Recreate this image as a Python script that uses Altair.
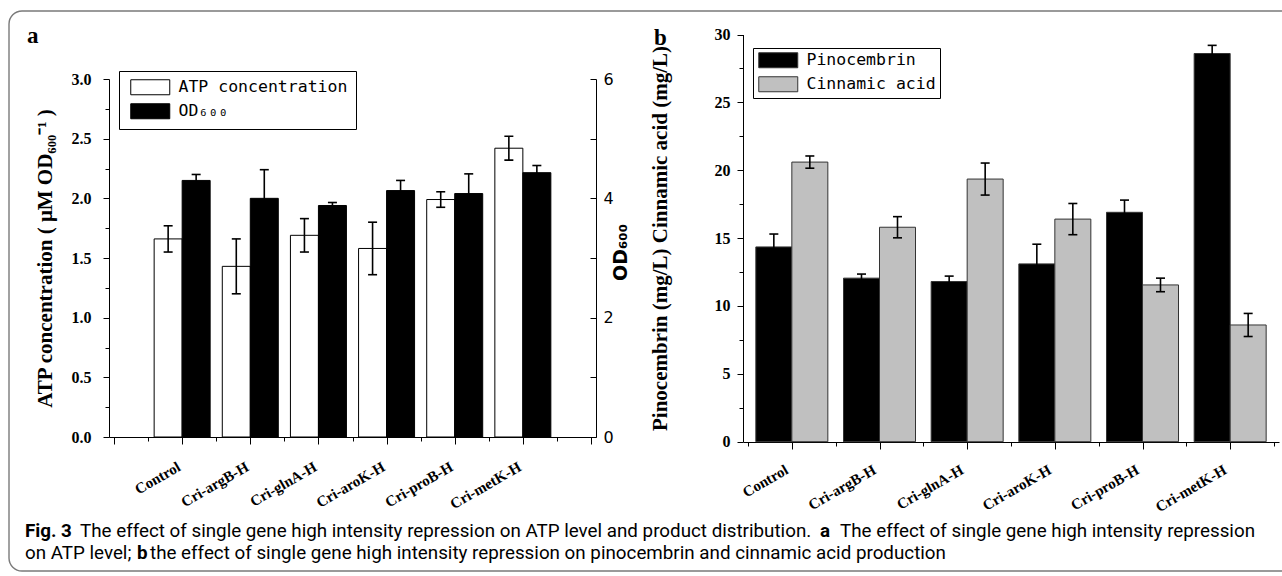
import json
import altair as alt
import pandas as pd

# ---------------- data ----------------
categories = ["Control", "Cri-argB-H", "Cri-glnA-H", "Cri-aroK-H", "Cri-proB-H", "Cri-metK-H"]

atp = [1.66, 1.43, 1.69, 1.58, 1.99, 2.42]
atp_err = [0.11, 0.23, 0.14, 0.22, 0.065, 0.10]
od600 = [4.30, 4.00, 3.88, 4.13, 4.08, 4.43]
od600_err = [0.10, 0.48, 0.05, 0.17, 0.33, 0.12]

pinocembrin = [14.35, 12.05, 11.8, 13.1, 16.9, 28.6]
pinocembrin_err = [0.95, 0.30, 0.40, 1.45, 0.90, 0.60]
cinnamic = [20.6, 15.8, 19.35, 16.4, 11.55, 8.6]
cinnamic_err = [0.45, 0.78, 1.18, 1.15, 0.50, 0.85]

series_a = ["ATP concentration", "OD₆₀₀"]
series_b = ["Pinocembrin", "Cinnamic acid"]

atp_ticks = [i * 0.25 for i in range(13)]
od_ticks = list(range(0, 7))
b_ticks = [i * 2.5 for i in range(13)]
xa_ticks = [i * 0.5 for i in range(15)]
xb_ticks = [0.5 + i * 0.5 for i in range(13)]


def frame(values, errs, name):
    return pd.DataFrame({
        "pos": list(range(1, len(categories) + 1)),
        "category": categories,
        "value": values,
        "lo": [v - e for v, e in zip(values, errs)],
        "hi": [v + e for v, e in zip(values, errs)],
        "series": [name] * len(categories),
    })


df_atp = frame(atp, atp_err, series_a[0])
df_od = frame(od600, od600_err, series_a[1])
df_pino = frame(pinocembrin, pinocembrin_err, series_b[0])
df_cinn = frame(cinnamic, cinnamic_err, series_b[1])

SERIF = "Liberation Serif"
MONO = "DejaVu Sans Mono"
SANS = "DejaVu Sans"
CAP = "Roboto"

cat_expr = json.dumps(categories)
x_label_expr = ("(datum.value % 1 == 0 && datum.value >= 1 && datum.value <= " + str(len(categories))
                + ") ? " + cat_expr + "[datum.value - 1] : ''")


def x_axis(values, offset, pad, shift):
    return alt.Axis(values=values, labelExpr=x_label_expr, orient="bottom", offset=offset,
                    title=None, grid=False, domainColor="black", tickColor="black",
                    tickSize={"condition": {"test": "datum.value % 1 == 0", "value": 7}, "value": 4},
                    labelAngle=330, labelAlign="right", labelBaseline="top",
                    labelPadding=pad, labelOffset=shift,
                    labelFont=SERIF, labelFontSize=15, labelFontWeight="bold",
                    labelColor="black", labelOverlap=False, labelFlush=False, labelLimit=300)


xa_scale = alt.Scale(domain=[0, 7], range=[109, 596], nice=False, zero=False)
xb_scale = alt.Scale(domain=[0.5, 6.5], range=[743, 1279], nice=False, zero=False)

fill_a = alt.Fill("series:N", scale=alt.Scale(domain=series_a, range=["white", "black"]),
                  legend=alt.Legend(orient="none", legendX=119, legendY=71, title=None,
                                    strokeColor="black", fillColor="white", padding=8,
                                    symbolType="M-2.6,-1H2.6V1H-2.6Z", symbolSize=225,
                                    symbolStrokeColor="black", symbolStrokeWidth=1,
                                    symbolOffset=15, labelOffset=20, rowPadding=4, labelLimit=400,
                                    labelFont=MONO, labelFontSize=16.5, labelColor="black"))
fill_b = alt.Fill("series:N", scale=alt.Scale(domain=series_b, range=["black", "#c0c0c0"]),
                  legend=alt.Legend(orient="none", legendX=753, legendY=48, title=None,
                                    strokeColor="black", fillColor="white", padding=4,
                                    symbolType="M-2.6,-1H2.6V1H-2.6Z", symbolSize=225,
                                    symbolStrokeColor="#333333", symbolStrokeWidth=1,
                                    symbolOffset=13, labelOffset=20, rowPadding=4, labelLimit=400,
                                    labelFont=MONO, labelFontSize=16.5, labelColor="black"))


def series_layer(df, x_enc, y_enc, fill_enc, width, shift, stroke):
    base = alt.Chart(df)
    bars = base.mark_bar(orient="vertical", width=width, xOffset=shift, stroke=stroke,
                         strokeWidth=1, opacity=1).encode(x=x_enc, y=y_enc, fill=fill_enc)
    rule = base.mark_rule(xOffset=shift, color="black", strokeWidth=1.6).encode(
        x=x_enc, y=alt.Y("lo:Q"), y2="hi:Q")
    cap_lo = base.mark_tick(orient="horizontal", size=9, thickness=1.6, xOffset=shift,
                            color="black", opacity=1).encode(x=x_enc, y=alt.Y("lo:Q"))
    cap_hi = base.mark_tick(orient="horizontal", size=9, thickness=1.6, xOffset=shift,
                            color="black", opacity=1).encode(x=x_enc, y=alt.Y("hi:Q"))
    return alt.layer(bars, rule, cap_lo, cap_hi)


# ---- panel a ----
xa = alt.X("pos:Q", scale=xa_scale, axis=x_axis(xa_ticks, -139, 15, -7))
y_atp = alt.Y("value:Q", scale=alt.Scale(domain=[0, 3], range=[437, 79], nice=False),
              axis=alt.Axis(values=atp_ticks, orient="left", offset=-109, grid=False,
                            labelExpr="datum.value % 0.5 == 0 ? format(datum.value, '.1f') : ''",
                            tickSize={"condition": {"test": "datum.value % 0.5 == 0", "value": 6}, "value": 4},
                            labelPadding=12, labelFont=SERIF, labelFontSize=16, labelFontWeight="bold",
                            labelColor="black", domainColor="black", tickColor="black",
                            labelOverlap=False, labelFlush=False,
                            title="ATP concentration ( μM OD₆₀₀⁻¹ )", titleFont=SERIF,
                            titleFontSize=21, titleFontWeight="bold", titleColor="black",
                            titleAngle=270, titleX=-64, titleY=258, titleAlign="center",
                            titleBaseline="middle"))
y_od = alt.Y("value:Q", scale=alt.Scale(domain=[0, 6], range=[437, 79], nice=False),
             axis=alt.Axis(values=od_ticks, orient="right", offset=-686, grid=False,
                           labelExpr="datum.value % 2 == 0 ? format(datum.value, 'd') : ''",
                           tickSize={"expr": "-6"}, labelPadding=13,
                           labelFont=SANS, labelFontSize=16, labelColor="black",
                           domainColor="black", tickColor="black",
                           labelOverlap=False, labelFlush=False,
                           title="OD₆₀₀", titleFont=SANS, titleFontSize=19, titleFontWeight="bold",
                           titleColor="black", titleAngle=270, titleX=24, titleY=252,
                           titleAlign="center", titleBaseline="middle"))

panel_a = alt.layer(
    series_layer(df_atp, xa, y_atp, fill_a, 28, -14, "black"),
    series_layer(df_od, xa, y_od, fill_a, 28, 14, "black"),
).resolve_scale(y="independent")

# ---- panel b ----
xb = alt.X("pos:Q", scale=xb_scale, axis=x_axis(xb_ticks, -134, 13, -9))
y_b = alt.Y("value:Q", scale=alt.Scale(domain=[0, 30], range=[441.7, 34.5], nice=False),
            axis=alt.Axis(values=b_ticks, orient="left", offset=-743, grid=False,
                          labelExpr="datum.value % 5 == 0 ? format(datum.value, 'd') : ''",
                          tickSize={"condition": {"test": "datum.value % 5 == 0", "value": 6}, "value": 4},
                          labelPadding=7, labelFont=SERIF, labelFontSize=16, labelFontWeight="bold",
                          labelColor="black", domainColor="black", tickColor="black",
                          labelOverlap=False, labelFlush=False,
                          title="Pinocembrin (mg/L) Cinnamic acid (mg/L)", titleFont=SERIF,
                          titleFontSize=21, titleFontWeight="bold", titleColor="black",
                          titleAngle=270, titleX=-83, titleY=238, titleAlign="center",
                          titleBaseline="middle"))

panel_b = alt.layer(
    series_layer(df_pino, xb, y_b, fill_b, 36, -18, "#333333"),
    series_layer(df_cinn, xb, y_b, fill_b, 36, 18, "#333333"),
)

# ---- frame, panel letters and caption ----
one = pd.DataFrame({"k": [0]})

border = alt.Chart(one).mark_rect(fill="white", fillOpacity=0, stroke="#7a7a7a", strokeWidth=1.4,
                                  cornerRadius=13).encode(
    x=alt.value(9), x2=alt.value(1320), y=alt.value(11), y2=alt.value(571))


def note(text, x, y, size, weight="normal", font=SERIF):
    return alt.Chart(one).mark_text(text=text, align="left", baseline="middle", font=font,
                                    fontSize=size, fontWeight=weight,
                                    color="black").encode(x=alt.value(x), y=alt.value(y))


CS = 18.8
notes = [
    note("a", 27, 36, 23, "bold"),
    note("b", 654, 38, 23, "bold"),
    note("Fig. 3", 25, 531, CS, "bold", CAP),
    note("The effect of single gene high intensity repression on ATP level and product distribution.",
         80, 531, CS, "normal", CAP),
    note("a", 820, 531, CS, "bold", CAP),
    note("The effect of single gene high intensity repression", 840, 531, CS, "normal", CAP),
    note("on ATP level;", 25, 553, CS, "normal", CAP),
    note("b", 137, 553, CS, "bold", CAP),
    note("the effect of single gene high intensity repression on pinocembrin and cinnamic acid production",
         150, 553, CS, "normal", CAP),
]

chart = alt.layer(border, panel_a, panel_b, *notes).resolve_scale(
    x="independent", y="independent", fill="independent"
).properties(
    width=1282, height=576, autosize=alt.AutoSizeParams(type="none"), padding=0,
    background="white"
).configure_view(strokeWidth=0)

chart.save("out.html", embed_options={"renderer": "svg", "actions": False})
